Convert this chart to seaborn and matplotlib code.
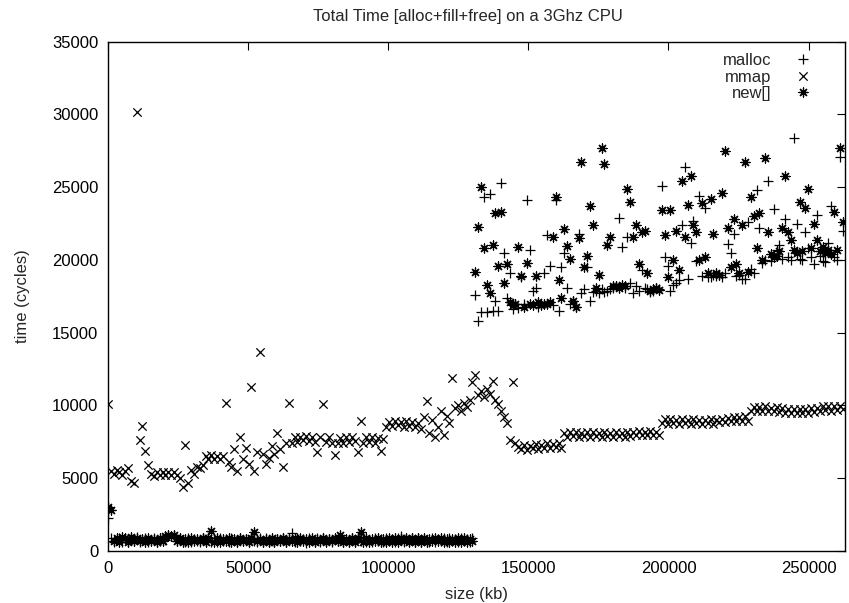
import matplotlib
matplotlib.use("Agg")
import matplotlib.pyplot as plt
import seaborn as sns

# allocation sizes tested, in kb (one run every 1024 kb up to 256 MB)
sizes_kb = list(range(0, 262145, 1024))

# cycles for sizes 0 .. 130048 kb
malloc_low = [
    2300, 880, 620, 760, 900, 640, 810, 590, 850, 720, 930, 600, 730, 860, 640, 790,
    900, 620, 680, 850, 790, 1100, 1050, 1120, 660, 900, 730, 590, 860, 620, 840, 700,
    620, 860, 700, 940, 590, 780, 620, 860, 700, 850, 630, 890, 770, 620, 900, 660,
    840, 600, 880, 720, 590, 860, 640, 900, 620, 780, 600, 840, 690, 860, 620, 900,
    1250, 640, 900, 660, 820, 580, 900, 740, 590, 860, 620, 900, 680, 840, 600, 820,
    660, 900, 640, 820, 590, 880, 620, 860, 700, 940, 620, 780, 600, 890, 660, 840,
    620, 900, 680, 840, 620, 860, 1050, 600, 840, 690, 880, 620, 860, 600, 840, 720,
    600, 860, 620, 840, 690, 880, 620, 900, 660, 840, 620, 900, 680, 840, 620, 860,
]
# cycles for sizes 131072 .. 262144 kb
malloc_high = [
    17600, 15800, 16400, 24300, 16400, 24500, 16500, 17200, 16500, 25300, 20500, 17400, 19100, 16600, 17000, 16700,
    18800, 17000, 24100, 20700, 17900, 18100, 16800, 17000, 19100, 21700, 19600, 16900, 24100, 16500, 19500, 20500,
    18100, 17000, 17200, 16800, 21800, 17700, 18000, 19500, 17200, 17800, 17900, 17700, 18000, 17800, 17900, 18000,
    18100, 18200, 22900, 20900, 18100, 21600, 18400, 17700, 18200, 17900, 19300, 18100, 18000, 17800, 17900, 18100,
    18000, 25100, 20200, 19600, 17900, 18300, 18400, 18600, 22400, 26400, 18700, 21200, 22700, 19900, 24400, 18900,
    23600, 18800, 18800, 19000, 18900, 19000, 18800, 19100, 21100, 20500, 21800, 18900, 19000, 18700, 18700, 22600,
    19400, 19100, 24800, 22200, 19800, 20000, 25400, 19900, 23500, 20700, 21000, 20100, 22800, 20200, 20000, 28400,
    22500, 20100, 20000, 21900, 20800, 20200, 19700, 23100, 20300, 19900, 19850, 21200, 23700, 20200, 20000, 27100,
    22000,
]

mmap_cycles = [
    10100, 5500, 5300, 5600, 5400, 5200, 5500, 5700, 4800, 4700, 30200, 7600, 8600, 6900, 5900, 5300,
    5150, 5400, 5200, 5450, 5250, 5400, 5200, 5450, 5200, 5000, 4400, 7300, 4700, 5600, 5300, 5800,
    5700, 5900, 6550, 6300, 6600, 6350, 6550, 6300, 6500, 10200, 6100, 5800, 7000, 5500, 7800, 6300,
    7100, 6000, 11300, 5500, 6800, 13700, 6700, 6000, 6400, 7200, 6700, 8100, 7000, 5800, 7400, 10200,
    7400, 7800, 7500, 7850, 7600, 7900, 7550, 7800, 7500, 6800, 7850, 10100, 7500, 7800, 7450, 6600,
    7400, 7750, 7450, 7800, 7500, 7850, 7550, 6800, 8900, 7450, 7800, 7500, 7850, 7450, 7750, 6900,
    7700, 8550, 8850, 8600, 8900, 8650, 8850, 8550, 8900, 8600, 8850, 8550, 8800, 8400, 9200, 10300,
    8100, 9000, 7800, 8500, 9600, 8000, 9300, 8800, 11900, 9800, 10000, 9600, 10200, 9900, 10400, 11600,
    12100, 10700, 11000, 10600, 11100, 10800, 11700, 10400, 10100, 9600, 9200, 8800, 7600, 11600, 7400, 7150,
    7000, 7300, 6950, 7250, 7050, 7350, 7000, 7300, 7100, 7400, 7050, 7350, 7150, 7400, 7100, 8100,
    7850, 8150, 7900, 8200, 7850, 8100, 7900, 8200, 7850, 8150, 7900, 8100, 7850, 8200, 7900, 8100,
    7850, 8150, 7900, 8100, 7850, 8200, 7900, 8150, 7950, 8250, 7950, 8200, 8000, 8250, 7950, 8200,
    8000, 8800, 9050, 8750, 9050, 8800, 9000, 8750, 9050, 8800, 9000, 8750, 9050, 8800, 9000, 8750,
    9000, 8800, 9050, 8750, 9000, 8850, 9100, 8850, 9150, 8900, 9200, 8950, 9200, 8950, 9250, 8950,
    9650, 9900, 9600, 9900, 9650, 9950, 9600, 9850, 9650, 9900, 9550, 9800, 9500, 9750, 9500, 9750,
    9500, 9750, 9450, 9750, 9500, 9800, 9550, 9850, 9650, 9950, 9700, 9950, 9650, 9950, 9700, 9950,
    9750,
]

new_low = [
    3000, 2850, 660, 900, 620, 950, 900, 640, 980, 660, 900, 680, 830, 590, 900, 660,
    820, 650, 900, 680, 1050, 1080, 1000, 1100, 660, 920, 600, 800, 640, 890, 680, 820,
    660, 900, 630, 880, 1400, 620, 860, 600, 840, 690, 900, 650, 820, 600, 900, 680,
    840, 620, 900, 1300, 660, 800, 590, 840, 620, 880, 600, 850, 660, 920, 590, 840,
    700, 860, 620, 900, 680, 840, 600, 900, 620, 800, 660, 890, 640, 820, 680, 900,
    660, 1100, 620, 850, 600, 880, 640, 900, 1300, 620, 860, 600, 840, 680, 920, 590,
    850, 620, 880, 600, 860, 640, 920, 700, 860, 600, 890, 640, 880, 620, 860, 600,
    840, 680, 920, 660, 900, 650, 800, 620, 840, 590, 860, 620, 880, 600, 840, 660,
]
new_high = [
    19200, 22300, 25000, 20800, 18300, 17700, 21000, 23200, 19600, 23300, 18400, 19700, 17100, 16900, 17000, 20900,
    18900, 16800, 19800, 17000, 16900, 18900, 17100, 16900, 17000, 16950, 17100, 21600, 24300, 18600, 17400, 22100,
    20950, 20100, 17200, 16800, 21500, 26700, 19500, 20300, 23700, 22400, 18100, 19000, 27700, 26600, 21000, 21600,
    18200, 18200, 18100, 18300, 18200, 24900, 24000, 21600, 22400, 19700, 21900, 22000, 19100, 17900, 18000, 18100,
    17950, 23400, 21700, 18800, 23400, 20000, 22000, 19300, 25400, 21600, 23800, 25800, 22400, 21900, 20000, 23900,
    20200, 19100, 24200, 21800, 19100, 19000, 24600, 27500, 22200, 19500, 22800, 19700, 19100, 22400, 26700, 19200,
    24300, 23000, 20800, 23200, 20000, 27000, 21900, 20400, 20200, 20300, 20600, 22200, 25800, 21900, 21350, 20700,
    20500, 24000, 20600, 23600, 24900, 20800, 22500, 21350, 20600, 20900, 20500, 20700, 20400, 23300, 20700, 27700,
    22600,
]

malloc_cycles = malloc_low + malloc_high
new_cycles = new_low + new_high

sns.set_style("white")
plt.rcParams["font.family"] = ["Liberation Sans", "DejaVu Sans"]

fig = plt.figure(figsize=(8.49, 6.03), dpi=100)
ax = fig.add_axes([108 / 849, 1 - 551 / 603, (845 - 108) / 849, (551 - 41.7) / 603])

sns.scatterplot(x=sizes_kb, y=malloc_cycles, marker="+", color="black",
                s=44, linewidth=0.9, label="malloc", ax=ax, zorder=3)
sns.scatterplot(x=sizes_kb, y=mmap_cycles, marker="x", color="black",
                s=36, linewidth=0.9, label="mmap", ax=ax, zorder=4)
sns.scatterplot(x=sizes_kb, y=new_cycles, marker=(8, 2, 0), color="black",
                s=42, linewidth=0.9, label="new[]", ax=ax, zorder=5)

ax.set_xlim(0, 263000)
ax.set_ylim(0, 35000)
ax.set_xticks(range(0, 250001, 50000))
ax.set_yticks(range(0, 35001, 5000))
ax.tick_params(direction="in", length=6, width=0.8, top=True, right=True,
               labelsize=12, colors="black", pad=7)
for sp in ax.spines.values():
    sp.set_color("black")
    sp.set_linewidth(1.0)

ax.set_xlabel("size (kb)", fontsize=12, labelpad=8)
ax.set_ylabel("time (cycles)", fontsize=12, labelpad=16)
ax.set_title("Total Time [alloc+fill+free] on a 3Ghz CPU", fontsize=12, pad=15, x=0.488)

ax.legend(loc="upper right", bbox_to_anchor=(0.954, 0.978), frameon=False,
          markerfirst=False, fontsize=12, handlelength=1.0, handletextpad=1.36,
          labelspacing=0.1, borderpad=0, borderaxespad=0, scatteryoffsets=[0.5])

fig.savefig("out.png", dpi=100)
